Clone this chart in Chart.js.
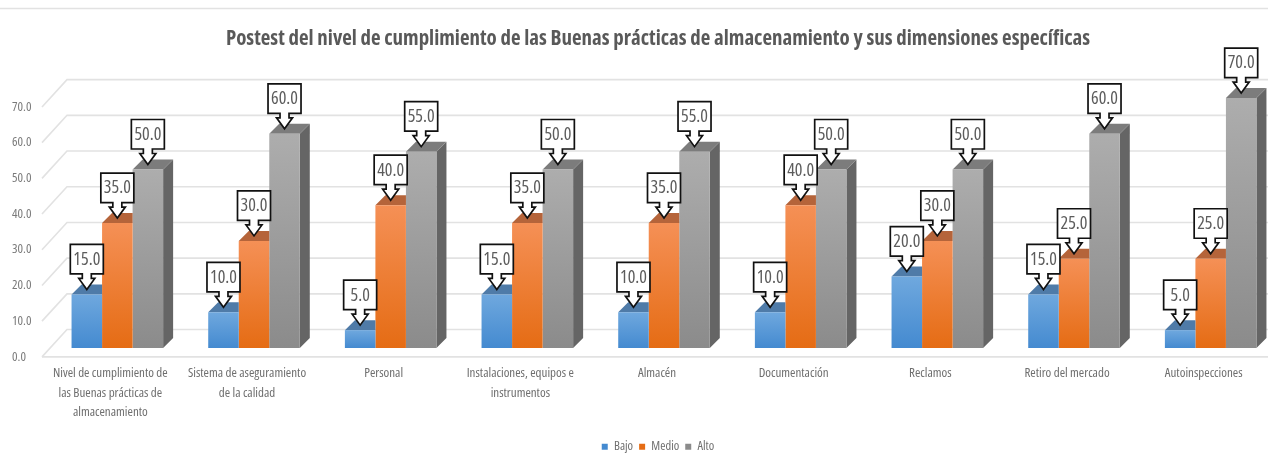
<!DOCTYPE html>
<html><head><meta charset="utf-8">
<style>html,body{margin:0;padding:0;background:#fff;overflow:hidden}canvas{display:block}</style>
<script src="https://cdn.jsdelivr.net/npm/chart.js@4/dist/chart.umd.js"></script>
</head><body><canvas id="c" width="1268" height="462"></canvas>
<script>
const TITLE = 'Postest del nivel de cumplimiento de las Buenas prácticas de almacenamiento y sus dimensiones específicas';
const categories = [
  ['Nivel de cumplimiento de','las Buenas prácticas de','almacenamiento'],
  ['Sistema de aseguramiento','de la calidad'],
  'Personal',
  ['Instalaciones, equipos e','instrumentos'],
  'Almacén','Documentación','Reclamos','Retiro del mercado','Autoinspecciones'
];
const bajo  = [15,10,5,15,10,10,20,15,5];
const medio = [35,30,40,35,35,40,30,25,25];
const alto  = [50,60,55,50,55,50,50,60,70];

const FONT = '"Open Sans","Lato","DejaVu Sans"';
const DEPTH = 10;
const palette = [
  {top:'#6fa8de',bottom:'#448ad0',lid:'#4f7ba8',side:'#3f6f9f',legend:'#5b9bd5'},
  {top:'#f59056',bottom:'#e56c14',lid:'#b5643a',side:'#a8552a',legend:'#ed7d31'},
  {top:'#adadad',bottom:'#8b8b8b',lid:'#7c7c7c',side:'#656565',legend:'#a5a5a5'}
];
function grad(ctx,i){
  const c=ctx.chart, s=c.scales&&c.scales.y;
  if(!s||!c.chartArea||ctx.parsed==null) return palette[i].legend;
  const g=c.ctx.createLinearGradient(0,s.getPixelForValue(ctx.parsed.y),0,s.getPixelForValue(0));
  g.addColorStop(0,palette[i].top);g.addColorStop(1,palette[i].bottom);
  return g;
}
const threeD={
  id:'threeD',
  afterLayout(chart){
    // the last group's depth runs to the picture edge: the plot extends 11px past the canvas
    const x=chart.scales.x, a=chart.chartArea;
    x.right=chart.width+11; x.width=x.right-x.left;
    a.right=x.right; a.width=x.width;
    x.configure();
  },
  beforeDatasetsDraw(chart){
    const {ctx,scales:{y}}=chart;
    const x0=42,x1=67,dy=27.3,shift=8.85,right=chart.width;
    ctx.save();
    ctx.strokeStyle='#e2e2e2';ctx.lineWidth=1.6;
    y.ticks.forEach(t=>{
      const f=y.getPixelForValue(t.value)+shift;
      ctx.beginPath();ctx.moveTo(x0,f);ctx.lineTo(x1,f-dy);ctx.lineTo(right,f-dy);ctx.stroke();
    });
    const f0=y.getPixelForValue(0)+shift;
    ctx.beginPath();ctx.moveTo(x0,f0);ctx.lineTo(right,f0);ctx.stroke();
    ctx.beginPath();ctx.moveTo(0,8.5);ctx.lineTo(right,8.5);ctx.stroke();
    ctx.restore();
  },
  beforeDatasetDraw(chart,args){
    const {ctx}=chart, p=palette[args.index];
    const next=chart.getDatasetMeta(args.index+1);
    const nextData=args.index+1<chart.data.datasets.length?next.data:null;
    args.meta.data.forEach((b,j)=>{
      const l=b.x-b.width/2,r=b.x+b.width/2,t=b.y,bt=b.base;
      const covered=nextData&&nextData[j].y<=t;
      if(!covered){
        ctx.fillStyle=p.side;
        ctx.beginPath();ctx.moveTo(r,t);ctx.lineTo(r+DEPTH,t-DEPTH);ctx.lineTo(r+DEPTH,bt-DEPTH);ctx.lineTo(r,bt);ctx.closePath();ctx.fill();
      }
      const lr=covered?r:r+DEPTH;
      ctx.fillStyle=p.lid;
      ctx.beginPath();ctx.moveTo(l,t);ctx.lineTo(l+DEPTH,t-DEPTH);ctx.lineTo(lr,t-DEPTH);ctx.lineTo(r,t);ctx.closePath();ctx.fill();
    });
  },
  afterDatasetsDraw(chart){
    const {ctx}=chart;
    const w=33,h=29.5,gap=15.5,lift=5,neck=4.5,hw=8,nw=4.5;
    chart.data.datasets.forEach((ds,i)=>{
      chart.getDatasetMeta(i).data.forEach((b,j)=>{
        const cx=b.x, tip=b.y-lift, bb=tip-gap, bt=bb-h, l=cx-w/2, r=cx+w/2;
        ctx.save();
        ctx.beginPath();
        ctx.moveTo(l,bt);ctx.lineTo(r,bt);ctx.lineTo(r,bb);ctx.lineTo(cx+nw,bb);ctx.lineTo(cx+nw,bb+neck);
        ctx.lineTo(cx+hw,bb+neck);ctx.lineTo(cx,tip);ctx.lineTo(cx-hw,bb+neck);ctx.lineTo(cx-nw,bb+neck);ctx.lineTo(cx-nw,bb);ctx.lineTo(l,bb);ctx.closePath();
        ctx.fillStyle='#fff';ctx.fill();
        ctx.strokeStyle='#111';ctx.lineWidth=1.7;ctx.lineJoin='miter';ctx.stroke();
        ctx.font='condensed 18px '+FONT;ctx.fillStyle='#5c5c5c';ctx.textAlign='center';ctx.textBaseline='middle';
        ctx.fillText(ds.data[j].toFixed(1),cx,(bt+bb)/2+0.5);
        ctx.restore();
      });
    });
  }
};
new Chart(document.getElementById('c'),{
  type:'bar',
  data:{labels:categories,datasets:[
    {label:'Bajo', data:bajo, backgroundColor:c=>grad(c,0)},
    {label:'Medio',data:medio,backgroundColor:c=>grad(c,1)},
    {label:'Alto', data:alto, backgroundColor:c=>grad(c,2)}
  ]},
  plugins:[threeD],
  options:{
    responsive:false,animation:false,
    layout:{padding:{left:37,right:-11,top:27,bottom:-1}},
    datasets:{bar:{barPercentage:1,categoryPercentage:0.67,clip:false}},
    plugins:{
      title:{display:true,text:TITLE,color:'#595959',font:{family:FONT,size:20.9,weight:'bold condensed'},padding:{top:0,bottom:46}},
      legend:{position:'bottom',align:'center',labels:{boxWidth:6,boxHeight:6,padding:6,color:'#6e6e6e',font:{family:FONT,size:12.5,weight:'condensed'}}},
      tooltip:{enabled:false}
    },
    scales:{
      x:{
        grid:{display:false},border:{display:false},
        afterFit(s){s.height=86.5;},
        ticks:{color:'#6e6e6e',padding:8,labelOffset:-7,maxRotation:0,autoSkip:false,font:{family:FONT,size:13,weight:'condensed',lineHeight:1.5}}
      },
      y:{
        min:0,max:70,
        grid:{display:false,drawTicks:false},border:{display:false},
        afterFit(s){s.width=12;},
        ticks:{mirror:true,stepSize:10,color:'#7a7a7a',padding:-37,labelOffset:8.85,font:{family:FONT,size:13,weight:'condensed'},callback:v=>v.toFixed(1)}
      }
    }
  }
});
</script></body></html>
